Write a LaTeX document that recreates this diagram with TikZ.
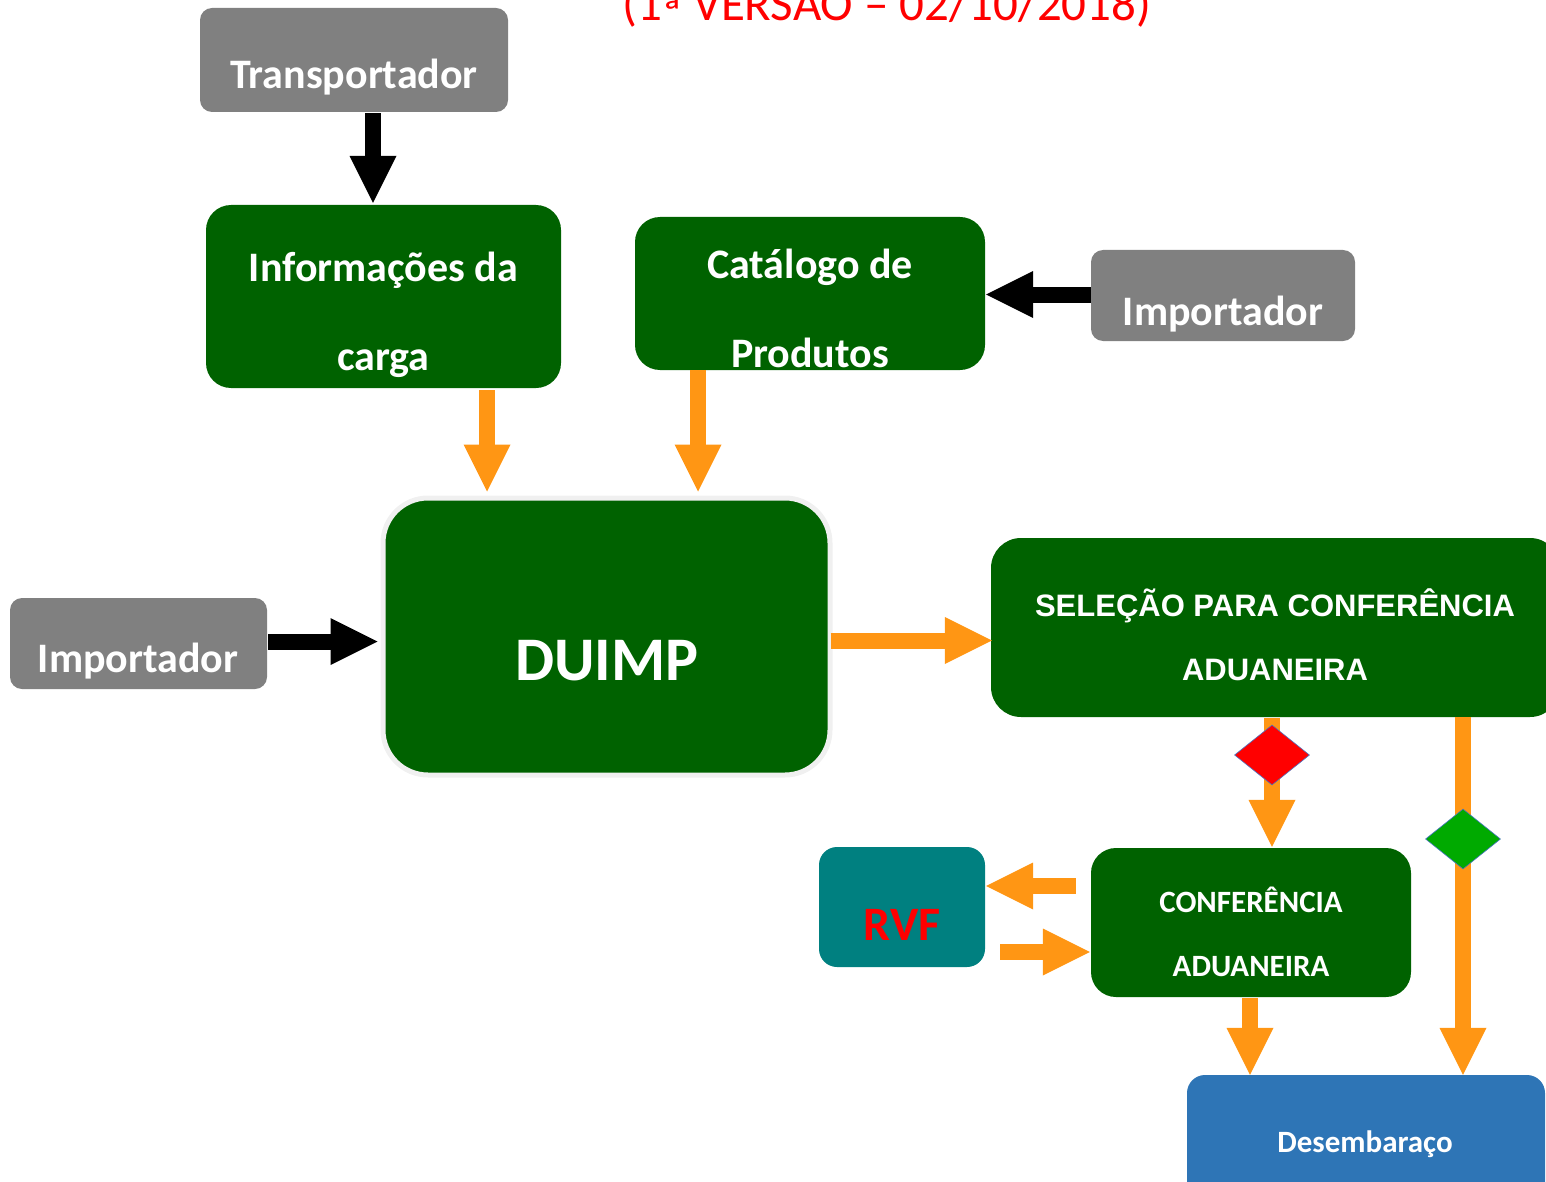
\documentclass[tikz,border=0pt]{standalone}
\usepackage{fontspec}
\setmainfont{Carlito}
\newfontfamily\arialf{Liberation Sans}
\usetikzlibrary{arrows.meta,shapes.geometric}
\definecolor{dgreen}{RGB}{0,98,0}
\definecolor{boxgray}{RGB}{128,128,128}
\definecolor{tealc}{RGB}{0,128,128}
\definecolor{blueb}{RGB}{46,117,182}
\definecolor{orangec}{RGB}{255,150,20}
\definecolor{dgreenD}{RGB}{0,170,0}
\definecolor{dborder}{RGB}{68,114,196}
\tikzset{
  box/.style={rounded corners=#1, inner sep=0pt},
  graybox/.style={box=12pt, fill=boxgray},
  greenbox/.style={box=25pt, fill=dgreen},
  txt/.style={text=white, font=\bfseries\fontsize{42}{44}\selectfont, anchor=base, inner sep=0pt},
  smalltxt/.style={txt, font=\bfseries\fontsize{31}{33}\selectfont},
  arialtxt/.style={txt, font=\arialf\bfseries\fontsize{31}{33}\selectfont},
  blk/.style={line width=16pt, draw=black, -{Triangle[length=47pt,width=47pt,line width=0pt]}},
  org/.style={line width=16pt, draw=orangec, -{Triangle[length=47pt,width=47pt,line width=0pt]}},
  dia/.style={diamond, draw=dborder, line width=0.6pt, inner sep=0pt, minimum width=75pt, minimum height=60pt, aspect=1.25}
}
\begin{document}
\begin{tikzpicture}[x=1pt,y=1pt]
\useasboundingbox (0,0) rectangle (1546,-1182);
\clip (0,0) rectangle (1546,-1182);
% title
\node[text=red, font=\fontsize{49}{51}\selectfont, anchor=base, inner sep=0pt] (title) at (887,-21) {(1\raisebox{-8pt}{ª} VERSÃO – 02/10/2018)};
% boxes
\node[graybox, minimum width=308pt, minimum height=104pt] (tr) at (354,-60) {};
\node[greenbox, minimum width=355pt, minimum height=183pt] (info) at (383.5,-296.5) {};
\node[greenbox, minimum width=350pt, minimum height=153pt] (cat) at (810,-293.5) {};
\node[graybox, minimum width=264pt, minimum height=91pt] (impR) at (1223,-295.5) {};
\node[box=45pt, fill=dgreen, draw=black!6, line width=5pt, minimum width=447pt, minimum height=277pt] (duimp) at (606.5,-636.5) {};
\node[graybox, minimum width=257pt, minimum height=91pt] (impL) at (138.5,-643.5) {};
\node[box=30pt, fill=dgreen, minimum width=569pt, minimum height=179pt] (sel) at (1275.5,-627.5) {};
\node[greenbox, minimum width=320pt, minimum height=149pt] (conf) at (1251,-922.5) {};
\node[box=18pt, fill=tealc, minimum width=166pt, minimum height=120pt] (rvf) at (902,-907) {};
\node[box=18pt, fill=blueb, minimum width=358pt, minimum height=140pt] (des) at (1366,-1145) {};
% texts
\node[txt] at (354,-89) {Transportador};
\node[txt] at (383.5,-281) {Informações da};
\node[txt] at (383.5,-370) {carga};
\node[txt] at (810,-278) {Catálogo de};
\node[txt] at (810,-367) {Produtos};
\node[txt] at (1223,-325) {Importador};
\node[txt] at (138,-672) {Importador};
\node[txt, font=\bfseries\fontsize{62}{64}\selectfont] at (607,-680) {DUIMP};
\node[arialtxt] at (1275,-616) {SELEÇÃO PARA CONFERÊNCIA};
\node[arialtxt] at (1275,-680) {ADUANEIRA};
\node[smalltxt] at (1251,-912) {CONFERÊNCIA};
\node[smalltxt] at (1251,-976) {ADUANEIRA};
\node[txt, text=red, font=\bfseries\fontsize{48}{50}\selectfont] at (902,-940) {RVF};
\node[smalltxt] at (1365,-1152) {Desembaraço};
% connectors
\draw[blk] ([xshift=19pt,yshift=-1pt]tr.south) -- ([xshift=-10.5pt,yshift=2pt]info.north);
\draw[blk] ([yshift=1pt]impR.west) -- ([xshift=1pt,yshift=-1pt]cat.east);
\draw[org] ([xshift=103.5pt,yshift=-2pt]info.south) -- ([xshift=-119.5pt,yshift=4pt]duimp.north);
\draw[org] ([xshift=-112pt]cat.south) -- ([xshift=91.5pt,yshift=4pt]duimp.north);
\draw[blk] ([xshift=1pt,yshift=2pt]impL.east) -- ([xshift=-3pt,yshift=-5pt]duimp.west);
\draw[org] ([xshift=-2pt,yshift=-4pt]duimp.east) -- ([xshift=1pt,yshift=-13pt]sel.west);
\draw[org] ([xshift=-3.5pt,yshift=-1pt]sel.south) -- ([xshift=21pt,yshift=1pt]conf.north);
\draw[org] ([xshift=187.5pt]sel.south) -- ([xshift=97pt]des.north);
\draw[org] ([xshift=-15pt,yshift=36.5pt]conf.west) -- ([xshift=1pt,yshift=21pt]rvf.east);
\draw[org] ([xshift=15pt,yshift=-45pt]rvf.east) -- ([xshift=-1pt,yshift=-29.5pt]conf.west);
\draw[org] ([xshift=-1pt,yshift=-1pt]conf.south) -- ([xshift=-116pt]des.north);
% decision diamonds
\node[dia, fill=red] (dred) at (1272,-755) {};
\node[dia, fill=dgreenD] (dgrn) at (1463,-839) {};
\end{tikzpicture}
\end{document}
